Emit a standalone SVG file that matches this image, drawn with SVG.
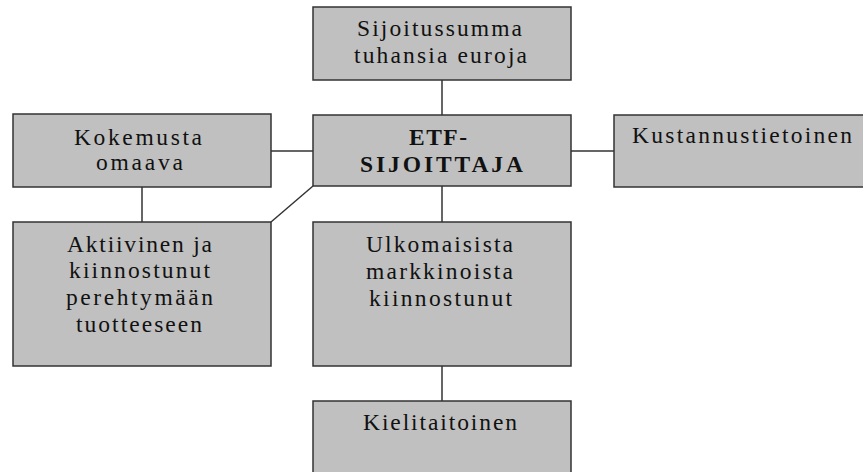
<svg xmlns="http://www.w3.org/2000/svg" width="863" height="472" viewBox="0 0 863 472">
<style>
.box{fill:#c0c0c0;stroke:#333;stroke-width:1.5}
.c{stroke:#333;stroke-width:1.5;fill:none}
text{font-family:"Liberation Serif","Times New Roman",serif;font-size:23.5px;fill:#111}
.b{font-weight:bold}
</style>
<rect width="863" height="472" fill="#fff"/>
<g id="connectors">
<line class="c" x1="442" y1="80" x2="442" y2="115"/>
<line class="c" x1="271" y1="151" x2="313" y2="151"/>
<line class="c" x1="571" y1="151" x2="614" y2="151"/>
<line class="c" x1="442" y1="186" x2="442" y2="222"/>
<line class="c" x1="142" y1="187" x2="142" y2="222"/>
<line class="c" x1="313" y1="186" x2="271" y2="222"/>
<line class="c" x1="442" y1="366" x2="442" y2="401"/>
</g>
<g id="sijoitussumma">
<rect class="box" x="313" y="7" width="258" height="73"/>
<text x="357" y="36" textLength="165" lengthAdjust="spacing">Sijoitussumma</text>
<text x="354" y="63" textLength="173" lengthAdjust="spacing">tuhansia euroja</text>
</g>
<g id="etf">
<rect class="box" x="313" y="115" width="258" height="71"/>
<text class="b" x="409" y="145" textLength="58" lengthAdjust="spacing">ETF-</text>
<text class="b" x="360" y="172" textLength="163" lengthAdjust="spacing">SIJOITTAJA</text>
</g>
<g id="kokemusta">
<rect class="box" x="13" y="114" width="258" height="73"/>
<text x="74" y="145" textLength="128" lengthAdjust="spacing">Kokemusta</text>
<text x="96" y="170" textLength="87" lengthAdjust="spacing">omaava</text>
</g>
<g id="kustannus">
<rect class="box" x="614" y="115" width="260" height="72"/>
<text x="632" y="143" textLength="220" lengthAdjust="spacing">Kustannustietoinen</text>
</g>
<g id="aktiivinen">
<rect class="box" x="13" y="222" width="258" height="144"/>
<text x="67" y="252" textLength="145" lengthAdjust="spacing">Aktiivinen ja</text>
<text x="69" y="278" textLength="141" lengthAdjust="spacing">kiinnostunut</text>
<text x="66" y="305" textLength="147" lengthAdjust="spacing">perehtymään</text>
<text x="76" y="332" textLength="126" lengthAdjust="spacing">tuotteeseen</text>
</g>
<g id="ulkomaisista">
<rect class="box" x="313" y="222" width="258" height="144"/>
<text x="366" y="252" textLength="147" lengthAdjust="spacing">Ulkomaisista</text>
<text x="366" y="279" textLength="147" lengthAdjust="spacing">markkinoista</text>
<text x="369" y="306" textLength="143" lengthAdjust="spacing">kiinnostunut</text>
</g>
<g id="kielitaitoinen">
<rect class="box" x="313" y="401" width="258" height="80"/>
<text x="363" y="430" textLength="154" lengthAdjust="spacing">Kielitaitoinen</text>
</g>
</svg>
